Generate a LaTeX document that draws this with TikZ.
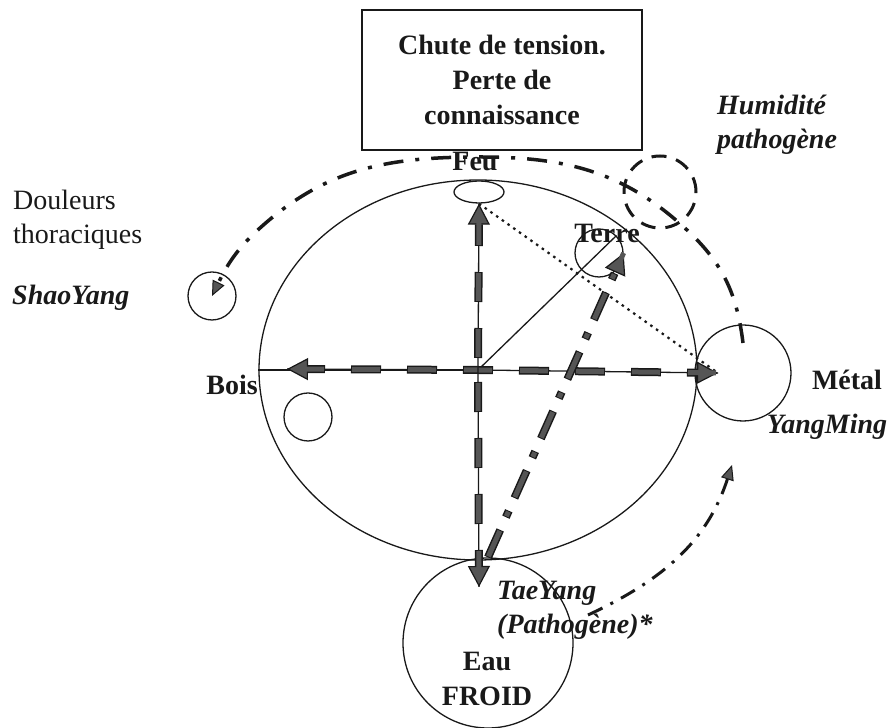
\documentclass[tikz,border=0pt]{standalone}
\usepackage{fontspec}
\setmainfont{Liberation Serif}
\usetikzlibrary{arrows.meta,shapes.geometric,calc}
\definecolor{encre}{RGB}{25,25,25}
\definecolor{trame}{RGB}{85,85,85}

\begin{document}
\begin{tikzpicture}[x=1pt,y=1pt,
    rond/.style={circle,draw=encre,line width=1.3pt,inner sep=0pt},
    gras/.style={font=\fontsize{28}{35}\selectfont\bfseries,text=encre,inner sep=0pt},
    grasit/.style={font=\fontsize{28}{34}\selectfont\bfseries\itshape,text=encre,inner sep=0pt},
    pointe/.style={-{Triangle[length=21pt,width=22pt,line width=1.2pt,fill=trame]}},
    axe/.style={draw=encre,line width=8pt,dash pattern=on 30pt off 26pt,dash phase=#1,pointe,
      preaction={draw=encre,line width=1.3pt,solid,-},
      postaction={draw=trame,line width=5pt,dash pattern=on 28pt off 28pt,dash phase=#1-1pt,-}},
    axepoint/.style={draw=encre,line width=8pt,dash pattern=on 30pt off 14pt on 7pt off 14pt,pointe,
      postaction={draw=trame,line width=5pt,dash pattern=on 28pt off 16pt on 5pt off 16pt,dash phase=-1pt,-}},
    fleche/.style={draw=encre,line width=3pt,dash pattern=on 16pt off 9pt on 3pt off 9pt,
      -{Triangle[length=15pt,width=13pt,line width=1pt,fill=trame]}},
  ]
  \useasboundingbox (0,0) rectangle (892,728);

  % cercle des cinq mouvements
  \node[ellipse,draw=encre,line width=1.3pt,minimum width=438pt,minimum height=380pt,inner sep=0pt] (cercle) at (478,358) {};
  \node[ellipse,draw=encre,line width=1.3pt,minimum width=50pt,minimum height=22pt,inner sep=0pt] (feu) at (479,536) {};
  \node[rond,minimum size=48pt] (terre) at (599,475) {};
  \node[rond,minimum size=96pt] (metal) at (743,355) {};
  \node[rond,minimum size=170pt] (eau) at (488,85) {};
  \node[rond,minimum size=48pt] (shao) at (212,432) {};
  \node[rond,minimum size=48pt] (boisrond) at (308,311) {};
  \node[circle,draw=encre,line width=3pt,dash pattern=on 15pt off 10pt,minimum size=72pt,inner sep=0pt] (humid) at (660,536) {};

  \node[draw=encre,line width=1.3pt,minimum width=280pt,minimum height=140pt,align=center,gras] (chute) at (502,648)
    {Chute de tension.\\Perte de\\connaissance};

  \coordinate (O) at (478,358);
  \coordinate (pm) at (718,355);
  \coordinate (pb) at (287,359);
  \coordinate (pe) at (479,141);
  \coordinate (dep) at (743,385);
  \coordinate (ty) at (588,113);
  \coordinate (pym) at (732,263);

  % axes
  \draw[encre,line width=1.3pt] (cercle.west) -- (O);
  \draw[encre,line width=1.3pt] (O) -- (terre.north east);
  \draw[encre,line width=2.2pt,dash pattern=on 2.5pt off 4.5pt] (feu.south) -- (pm);
  \path[axe=15pt] (O) -- (pb);
  \path[axe=15pt] (O) -- (pm);
  \path[axe=44pt] (O) -- (feu.south);
  \path[axe=44pt] (O) -- (pe);
  \path[axepoint] (eau.north) -- (terre.east);

  % fleches courbes
  \draw[fleche,line width=3.5pt,dash pattern=on 20pt off 12pt on 4pt off 12pt]
    (dep) to[out=97,in=-43] (687,498) to[out=137,in=0] (480,571)
    to[out=180,in=42] (260,500) to[out=222,in=64] (shao.center);
  \draw[fleche] (ty) to[out=25,in=-108] (pym);

  % textes
  \node[gras] (tfeu) at (475,566) {Feu};
  \node[gras] (tterre) at (607,495) {Terre};
  \node[grasit,align=left,anchor=west] (thumid) at (717,603) {Humidité\\pathogène};
  \node[font=\fontsize{28}{34}\selectfont,text=encre,align=left,anchor=west,inner sep=0pt] (tdoul) at (13,508) {Douleurs\\thoraciques};
  \node[grasit,anchor=west] (tshao) at (12,430) {ShaoYang};
  \node[gras] (tbois) at (232,343) {Bois};
  \node[gras] (tmetal) at (847,348) {Métal};
  \node[grasit] (tym) at (827,301) {YangMing};
  \node[grasit,align=left,anchor=west] (tty) at (497,118) {TaeYang\\(Pathogène)*};
  \node[gras,align=center] (teau) at (487,49) {Eau\\FROID};
\end{tikzpicture}
\end{document}
